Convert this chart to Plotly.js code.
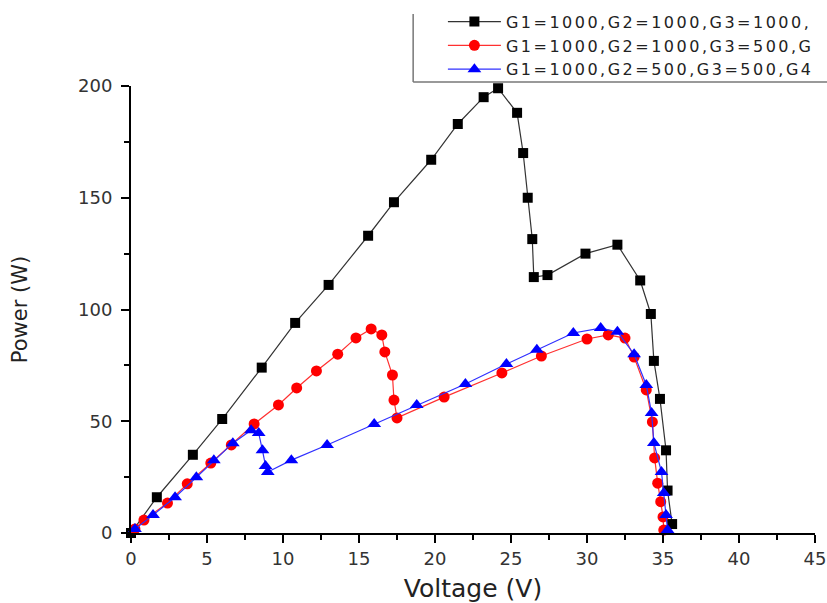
<!DOCTYPE html>
<html>
<head>
<meta charset="utf-8">
<script src="https://cdn.plot.ly/plotly-3.0.1.min.js"></script>
<style>
html,body{margin:0;padding:0;background:#fff;}
#chart{width:827px;height:603px;}
.legendtext{letter-spacing:2.5px;}
</style>
</head>
<body>
<div id="chart"></div>
<script>
// Series 1: G1=1000,G2=1000,G3=1000,...
const v1 = [0.0, 1.7, 4.07, 6.0, 8.6, 10.8, 13.0, 15.6, 17.3, 19.75, 21.5, 23.2, 24.15, 25.4, 25.8, 26.1, 26.4, 26.5, 27.4, 29.9, 32.0, 33.5, 34.2, 34.4, 34.8, 35.2, 35.3, 35.6];
const p1 = [0.0, 16, 35, 51, 74, 94, 111, 133, 148, 167, 183, 195, 199, 188, 170, 150, 131.5, 114.5, 115.4, 125, 129, 113, 98, 77, 60, 37, 19, 4];
// Series 2: G1=1000,G2=1000,G3=500,...
const v2 = [0.26, 0.85, 2.4, 3.7, 5.25, 6.6, 8.1, 9.7, 10.9, 12.2, 13.6, 14.8, 15.8, 16.5, 16.7, 17.2, 17.3, 17.5, 20.6, 24.4, 27.0, 30.0, 31.4, 32.5, 33.1, 33.9, 34.3, 34.45, 34.65, 34.85, 35.0, 35.05];
const p2 = [1.8, 5.8, 13.4, 22, 31.3, 39.4, 48.8, 57.3, 64.9, 72.5, 80, 87.3, 91.3, 88.6, 81, 70.7, 59.5, 51.5, 60.8, 71.6, 79.2, 86.8, 88.6, 87.2, 78.7, 64, 49.7, 33.6, 22.3, 14, 7.2, 1.3];
// Series 3: G1=1000,G2=500,G3=500,...
const v3 = [0.26, 1.45, 2.9, 4.3, 5.45, 6.7, 7.9, 8.4, 8.65, 8.85, 9.0, 10.55, 12.9, 16.0, 18.8, 22.0, 24.7, 26.7, 29.1, 30.9, 32.0, 33.1, 33.9, 34.25, 34.4, 34.9, 35.05, 35.2, 35.3];
const p3 = [1.8, 8, 16, 25, 32.6, 40.2, 46, 44.7, 37, 30, 27.3, 32.6, 39.4, 48.8, 57.3, 66.7, 75.6, 82, 89.5, 91.7, 90, 80, 66.2, 53.7, 40.3, 27.3, 17.9, 8, 1.3];
// Legend labels as far as they are visible in the (cropped) reference
const names = ["G1=1000,G2=1000,G3=1000,", "G1=1000,G2=1000,G3=500,G", "G1=1000,G2=500,G3=500,G4"];
const xTickVals = [0, 5, 10, 15, 20, 25, 30, 35, 40, 45];
const yTickVals = [0, 50, 100, 150, 200];

const traces = [
  {x: v1, y: p1, name: names[0], mode: 'lines+markers', type: 'scatter', cliponaxis: false,
   line: {color: '#333', width: 1.2}, marker: {symbol: 'square', size: 10, color: '#000'}},
  {x: v2, y: p2, name: names[1], mode: 'lines+markers', type: 'scatter', cliponaxis: false,
   line: {color: '#ff3030', width: 1.2}, marker: {symbol: 'circle', size: 11, color: '#ff0000'}},
  {x: v3, y: p3, name: names[2], mode: 'lines+markers', type: 'scatter', cliponaxis: false,
   line: {color: '#3030ff', width: 1.2}, marker: {symbol: 'triangle-up', size: 12, color: '#0000ff'}}
];

const axisCommon = {
  showgrid: false, zeroline: false, showline: true, linecolor: '#000', linewidth: 2,
  ticks: 'outside', ticklen: 8, tickwidth: 2, tickcolor: '#000',
  tickfont: {family: 'DejaVu Sans', size: 18, color: '#333'},
  minor: {ticks: 'outside', ticklen: 5, tickwidth: 2, tickcolor: '#000'},
  automargin: false, ticklabeloverflow: 'allow'
};

const layout = {
  width: 827, height: 603,
  paper_bgcolor: '#fff', plot_bgcolor: '#fff',
  margin: {l: 131, r: 12, t: 86, b: 70, autoexpand: false},
  showlegend: true,
  xaxis: Object.assign({}, axisCommon, {
    range: [0, 45], tickvals: xTickVals, ticktext: xTickVals.map(String),
    minor: Object.assign({}, axisCommon.minor, {dtick: 2.5, tick0: 0}),
    title: {text: 'Voltage (V)', font: {family: 'DejaVu Sans', size: 25, color: '#222'}, standoff: 14}
  }),
  yaxis: Object.assign({}, axisCommon, {
    range: [0, 200], tickvals: yTickVals, ticktext: yTickVals.map(String),
    minor: Object.assign({}, axisCommon.minor, {dtick: 25, tick0: 0}),
    ticklabelstandoff: 5,
    title: {text: 'Power (W)', font: {family: 'DejaVu Sans', size: 21, color: '#222'}, standoff: 45}
  }),
  shapes: [
    {type: 'rect', xref: 'paper', yref: 'paper', x0: 0.4125, x1: 1.03, y0: 1.0089, y1: 1.161,
     fillcolor: '#fff', line: {width: 0}, layer: 'above'},
    {type: 'line', xref: 'paper', yref: 'paper', x0: 0.4125, x1: 0.4125, y0: 1.0089, y1: 1.161,
     line: {color: '#777', width: 1.5}, layer: 'above'},
    {type: 'line', xref: 'paper', yref: 'paper', x0: 0.4125, x1: 1.03, y0: 1.0089, y1: 1.0089,
     line: {color: '#777', width: 1.5}, layer: 'above'}
  ],
  legend: {
    x: 0.456, y: 1.182, xanchor: 'left', yanchor: 'top',
    bgcolor: 'rgba(0,0,0,0)', borderwidth: 0,
    font: {family: 'DejaVu Sans', size: 16, color: '#222'},
    itemwidth: 53, tracegroupgap: 0
  }
};

Plotly.newPlot('chart', traces, layout, {displayModeBar: false, staticPlot: true});
</script>
</body>
</html>
